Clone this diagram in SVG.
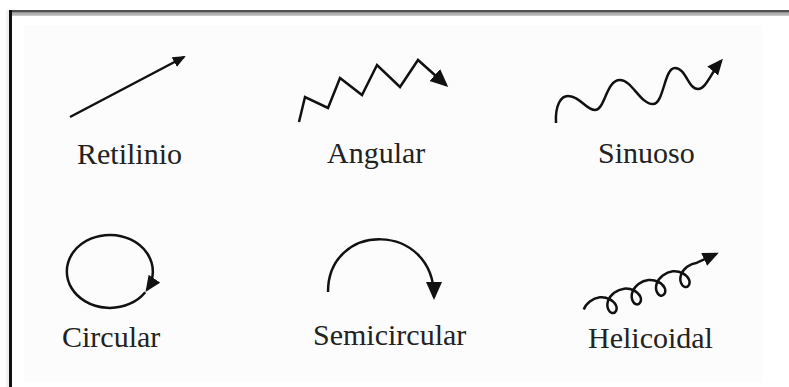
<svg xmlns="http://www.w3.org/2000/svg" width="789" height="387" viewBox="0 0 789 387">
<style>
.lbl{font-family:"Liberation Serif","Times New Roman",serif;font-size:30px;fill:#222;}
.ln{fill:none;stroke:#111;stroke-width:2.5;stroke-linejoin:miter;}
</style>
<defs>
<marker id="ah" markerUnits="userSpaceOnUse" markerWidth="17" markerHeight="15" refX="13" refY="7" orient="auto">
<path d="M0,0 L16,7 L0,14 z" fill="#111"/>
</marker>
<marker id="ahb" markerUnits="userSpaceOnUse" markerWidth="19" markerHeight="17" refX="15" refY="8" orient="auto">
<path d="M0,0 L18,8 L0,16 z" fill="#111"/>
</marker>
<marker id="ahs" markerUnits="userSpaceOnUse" markerWidth="14" markerHeight="12" refX="11" refY="5.5" orient="auto">
<path d="M0,0 L13,5.5 L0,11 z" fill="#111"/>
</marker>
</defs>
<rect x="0" y="0" width="789" height="387" fill="#ffffff"/>
<rect x="24" y="25" width="738" height="357" fill="#fcfcfc"/>
<rect x="6" y="10" width="3" height="377" fill="#f2f2f2"/>
<rect x="9" y="10" width="780" height="2.7" fill="#505050"/>
<rect x="9" y="12.7" width="780" height="3" fill="#b0b0b0"/>
<rect x="9" y="10" width="3" height="377" fill="#111"/>

<g id="retilinio">
<path class="ln" d="M70,117 L184,57" marker-end="url(#ahs)"/>
<text class="lbl" x="77" y="164">Retilinio</text>
</g>

<g id="angular">
<path class="ln" d="M299,122 L305,97 L328,108 L340,78 L362,95 L377,65 L400,87 L418,60 L446,85" marker-end="url(#ahb)"/>
<text class="lbl" x="327" y="163">Angular</text>
</g>

<g id="sinuoso">
<path class="ln" d="M556,123 C555,105 561,96 568,96 C580,96 586,110 595,110 C605,110 606,80 620,80 C632,80 640,104 653,104 C664,104 664,68 675,68 C686,68 688,89 698,89 C706,89 711,73 721,61" marker-end="url(#ah)"/>
<text class="lbl" x="598" y="163">Sinuoso</text>
</g>

<g id="circular">
<path class="ln" d="M145.2,292.2 A43,36.5 0 1 1 147.2,289.5" marker-end="url(#ah)"/>
<text class="lbl" x="62" y="347">Circular</text>
</g>

<g id="semicircular">
<path class="ln" d="M328,292 C328,221 434,221 434,297" marker-end="url(#ahb)"/>
<text class="lbl" x="313" y="345">Semicircular</text>
</g>

<g id="helicoidal">
<path class="ln" d="M583.76,309.5 C585.79,303.54 592.58,298.06 599.84,297.34 C607.1,296.62 613.89,300.66 615.92,305.17 C617.95,309.68 615.21,313.72 612,313 C608.79,312.28 606.05,306.79 608.08,300.83 C610.11,294.87 616.9,289.38 624.16,288.66 C631.42,287.94 638.21,291.99 640.24,296.5 C642.27,301.01 639.53,305.05 636.32,304.33 C633.11,303.61 630.37,298.12 632.4,292.16 C634.43,286.2 641.21,280.71 648.47,279.99 C655.73,279.27 662.52,283.31 664.55,287.82 C666.58,292.33 663.84,296.38 660.63,295.66 C657.42,294.94 654.68,289.45 656.71,283.49 C658.74,277.53 665.53,272.04 672.79,271.32 C680.05,270.6 686.84,274.64 688.87,279.15 C690.9,283.66 688.16,287.7 684.95,286.98 C681.74,286.26 679,280.78 681.03,274.82 C683.06,268.86 689.85,263.37 697.11,262.65 L716,254" marker-end="url(#ah)"/>
<text class="lbl" x="588" y="348">Helicoidal</text>
</g>
</svg>
